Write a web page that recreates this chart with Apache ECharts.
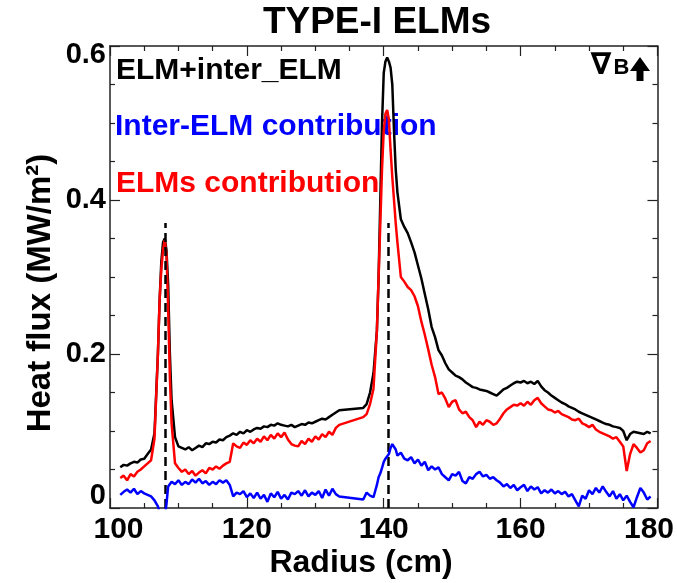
<!DOCTYPE html>
<html>
<head>
<meta charset="utf-8">
<script src="https://cdn.jsdelivr.net/npm/echarts@6/dist/echarts.min.js"></script>
<style>html,body{margin:0;padding:0;background:#fff;}#chart{width:677px;height:583px;}</style>
</head>
<body>
<div id="chart"></div>
<script>
// Radius (cm) sample positions
const radius = [
  101.5,102,102.5,103,103.5,104,104.5,105,105.5,106,106.5,107,
  107.25,107.5,107.75,108,108.25,108.5,108.75,109,
  109.5,110,110.5,111,111.5,112,112.5,113,113.5,114,114.5,115,115.5,116,116.5,117,117.5,118,118.5,119,119.5,
  120,120.5,121,121.5,122,122.5,123,123.5,124,124.5,125,125.5,126,126.5,127,127.5,128,128.5,129,129.5,
  130,130.5,131,131.5,132,132.5,133,133.5,
  137,137.5,138,138.5,139,139.25,139.5,139.75,140,140.25,140.5,140.75,141,141.25,141.5,141.75,142,
  142.5,143,143.5,144,144.5,145,145.5,146,146.5,147,147.5,148,148.5,149,149.5,
  150,150.5,151,151.5,152,152.5,153,153.5,154,154.5,155,155.5,156,156.5,157,157.5,158,158.5,159,159.5,
  160,160.5,161,161.5,162,162.5,163,163.5,164,164.5,165,165.5,166,166.5,167,167.5,168,168.5,169,169.5,
  170,170.5,171,171.5,172,172.5,173,173.5,174,174.5,175,175.5,176,176.5,177,177.5,178,178.5,179
];
// ELM+inter_ELM (black)
const totalFlux = [
  .053,.056,.055,.058,.060,.059,.063,.064,.070,.076,.097,.200,
  .270,.320,.345,.350,.335,.290,.200,.140,
  .092,.080,.078,.076,.079,.075,.078,.081,.079,.084,.083,.086,.085,.089,.088,.092,.094,.097,.095,.099,.097,
  .101,.099,.102,.104,.103,.106,.105,.108,.107,.110,.108,.107,.106,.108,.105,.107,.109,.108,.111,.110,
  .112,.114,.116,.115,.118,.121,.124,.127,
  .130,.135,.150,.175,.230,.300,.400,.500,.565,.580,.585,.580,.572,.550,.490,.440,.410,
  .375,.365,.357,.345,.332,.315,.298,.278,.258,.235,.222,.205,.198,.188,.180,
  .176,.172,.170,.167,.163,.160,.157,.156,.154,.153,.152,.150,.148,.146,.150,.154,.156,.159,.162,.164,
  .163,.165,.162,.164,.161,.165,.158,.153,.150,.146,.143,.140,.137,.135,.132,.130,.128,.125,.123,.121,
  .119,.117,.115,.113,.111,.109,.108,.106,.105,.104,.100,.088,.096,.099,.098,.097,.096,.099,.097
];
// ELMs contribution (red)
const elmFlux = [
  .039,.042,.036,.044,.041,.047,.050,.054,.058,.062,.090,.200,
  .270,.310,.335,.348,.330,.260,.170,.110,
  .058,.052,.047,.050,.044,.048,.042,.046,.049,.045,.052,.050,.054,.051,.055,.058,.060,.084,.080,.078,.085,
  .082,.088,.084,.090,.086,.093,.088,.095,.090,.097,.092,.098,.089,.083,.081,.080,.087,.083,.090,.086,
  .093,.089,.096,.092,.099,.095,.104,.108,
  .118,.122,.135,.155,.230,.300,.370,.440,.490,.512,.517,.505,.465,.430,.400,.370,.345,
  .300,.294,.287,.283,.275,.262,.242,.225,.206,.186,.170,.148,.150,.142,.131,
  .138,.140,.128,.123,.125,.118,.114,.105,.112,.108,.114,.112,.108,.110,.116,.123,.128,.131,.134,.133,
  .136,.133,.138,.134,.140,.143,.136,.132,.128,.127,.124,.126,.122,.120,.118,.115,.114,.116,.110,.108,
  .105,.108,.102,.099,.097,.095,.093,.090,.092,.086,.080,.048,.070,.083,.078,.072,.075,.084,.087
];
// Inter-ELM contribution (blue)
const interElmFlux = [
  .017,.021,.024,.020,.025,.018,.022,.019,.017,.015,.010,.002,
  -.005,-.012,-.015,-.012,.005,.028,.030,.034,
  .031,.036,.030,.034,.031,.037,.033,.038,.032,.035,.030,.034,.031,.036,.033,.036,.030,.015,.020,.018,.022,
  .014,.019,.013,.020,.012,.017,.008,.019,.014,.021,.012,.017,.011,.020,.018,.022,.016,.023,.015,.020,
  .017,.022,.013,.024,.016,.025,.018,.015,
  .011,.020,.016,.014,.030,.040,.045,.052,.060,.064,.066,.070,.078,.083,.084,.076,.068,
  .072,.064,.062,.066,.058,.063,.055,.060,.049,.054,.050,.053,.044,.040,.036,
  .044,.042,.047,.035,.032,.040,.038,.044,.047,.041,.043,.038,.040,.036,.033,.028,.031,.026,.030,.023,
  .027,.030,.022,.028,.024,.027,.019,.023,.020,.024,.019,.022,.018,.021,.015,.018,.010,.002,.016,.012,
  .023,.018,.026,.020,.028,.021,.015,.022,.012,.018,.010,.016,.008,.001,.014,.026,.020,.011,.015
];
// dashed separatrix markers
const dashX = [108.07, 140.7];
const dashTop = [0.37, 0.37];

const F = '"Liberation Sans", Arial, Helvetica, sans-serif';
const AX = '#222';
const pair = (ys) => radius.map((r, i) => [r, ys[i]]);

const tickBase = {
  axisLine: { show: true, onZero: false, lineStyle: { color: AX, width: 1.5 } },
  axisTick: { show: true, inside: true, length: 10, lineStyle: { color: AX, width: 1.2 } },
  minorTick: { show: true, splitNumber: 4, length: 5, lineStyle: { color: AX, width: 1.2 } },
  splitLine: { show: false },
  minorSplitLine: { show: false }
};
const lab = { fontSize: 30, fontWeight: 'bold', fontFamily: F, color: '#000' };
const ylab = { fontSize: 29, fontWeight: 'bold', fontFamily: F, color: '#000' };

const chart = echarts.init(document.getElementById('chart'), null, { renderer: 'canvas' });
chart.setOption({
  animation: false,
  backgroundColor: '#fff',
  grid: { left: 110, right: 15, top: 46, bottom: 75, containLabel: false },
  xAxis: [
    Object.assign({ type: 'value', min: 100, max: 180, interval: 20, position: 'bottom',
      axisLabel: { margin: 7,
        formatter: v => v === 100 ? '{l|100}' : v === 180 ? '{r|180}' : '{n|' + v + '}',
        rich: { n: lab, l: Object.assign({ padding: [0, 0, 0, 17] }, lab), r: Object.assign({ padding: [0, 17, 0, 0] }, lab) } } }, tickBase),
    Object.assign({ type: 'value', min: 100, max: 180, interval: 20, position: 'top', axisLabel: { show: false } }, tickBase)
  ],
  yAxis: [
    Object.assign({ type: 'value', min: 0, max: 0.6, interval: 0.2, position: 'left',
      axisLabel: { margin: 4,
        formatter: v => { const s = +v.toFixed(1); return s === 0 ? '{lo|0}' : s === 0.6 ? '{hi|0.6}' : '{n|' + s + '}'; },
        rich: { n: ylab, lo: Object.assign({ padding: [0, 0, 24, 0] }, ylab), hi: Object.assign({ padding: [18, 0, 0, 0] }, ylab) } } }, tickBase),
    Object.assign({ type: 'value', min: 0, max: 0.6, interval: 0.2, position: 'right', axisLabel: { show: false } }, tickBase)
  ],
  series: [
    { type: 'line', name: 'ELM+inter_ELM', data: pair(totalFlux), showSymbol: false, symbol: 'none',
      lineStyle: { color: '#000', width: 2.5 }, clip: true, z: 3 },
    { type: 'line', name: 'ELMs contribution', data: pair(elmFlux), showSymbol: false, symbol: 'none',
      lineStyle: { color: '#ff0000', width: 2.5 }, clip: true, z: 4 },
    { type: 'line', name: 'Inter-ELM contribution', data: pair(interElmFlux), showSymbol: false, symbol: 'none',
      lineStyle: { color: '#0000ff', width: 2.5 }, clip: true, z: 5,
      markLine: { silent: true, symbol: 'none', label: { show: false },
        lineStyle: { type: [9, 5], color: '#000', width: 2.5 },
        data: dashX.map((x, i) => [{ coord: [x, 0] }, { coord: [x, dashTop[i]] }]) } }
  ],
  graphic: [
    { type: 'text', x: 377, y: 23, style: { text: 'TYPE-I ELMs', align: 'center', verticalAlign: 'middle', font: 'bold 37px ' + F, fill: '#000' } },
    { type: 'text', x: 361, y: 563, style: { text: 'Radius (cm)', align: 'center', verticalAlign: 'middle', font: 'bold 32px ' + F, fill: '#000' } },
    { type: 'text', x: 41, y: 293, rotation: Math.PI / 2, style: { text: 'Heat flux (MW/m²)', align: 'center', verticalAlign: 'middle', font: 'bold 33px ' + F, fill: '#000' } },
    { type: 'text', x: 116, y: 71, style: { text: 'ELM+inter_ELM', align: 'left', verticalAlign: 'middle', font: 'bold 30px ' + F, fill: '#000' } },
    { type: 'text', x: 115, y: 127, style: { text: 'Inter-ELM contribution', align: 'left', verticalAlign: 'middle', font: 'bold 30px ' + F, fill: '#0000ff' } },
    { type: 'text', x: 116, y: 184, style: { text: 'ELMs contribution', align: 'left', verticalAlign: 'middle', font: 'bold 30px ' + F, fill: '#ff0000' } },
    { type: 'text', x: 601, y: 66, style: { text: '∇', align: 'center', verticalAlign: 'middle', font: 'bold 30px "DejaVu Sans", sans-serif', fill: '#000' } },
    { type: 'text', x: 621.5, y: 68, style: { text: 'B', align: 'center', verticalAlign: 'middle', font: 'bold 22px ' + F, fill: '#000' } },
    { type: 'polygon', shape: { points: [[630, 71], [640, 57], [650, 71], [643.5, 71], [643.5, 81], [636.5, 81], [636.5, 71]] }, style: { fill: '#000' } }
  ]
});
</script>
</body>
</html>
